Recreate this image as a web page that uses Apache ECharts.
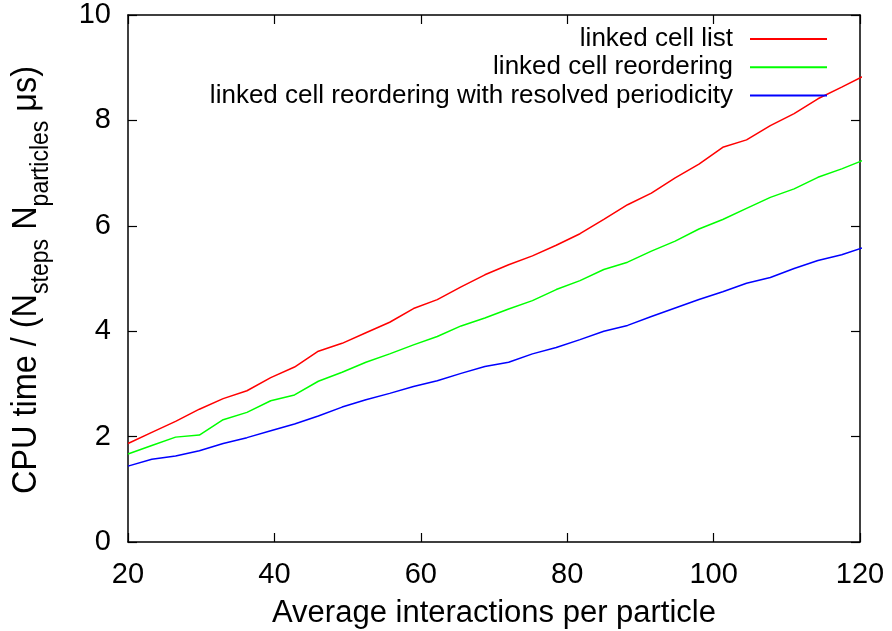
<!DOCTYPE html>
<html>
<head>
<meta charset="utf-8">
<script src="https://cdn.jsdelivr.net/npm/echarts@6/dist/echarts.min.js"></script>
<style>
html,body{margin:0;padding:0;background:#fff;}
#chart{width:892px;height:631px;}
</style>
</head>
<body>
<div id="chart"></div>
<script>
// Average interactions per particle
const interactions = [20, 23.25, 26.5, 29.75, 33, 36.25, 39.5, 42.75, 46, 49.25, 52.5, 55.75, 59, 62.25, 65.5, 68.75, 72, 75.25, 78.5, 81.75, 85, 88.25, 91.5, 94.75, 98, 101.25, 104.5, 107.75, 111, 114.25, 117.5, 120.75];
const linkedCellList = [1.87, 2.08, 2.29, 2.52, 2.72, 2.87, 3.12, 3.32, 3.62, 3.77, 3.97, 4.17, 4.43, 4.60, 4.84, 5.07, 5.26, 5.43, 5.63, 5.85, 6.12, 6.40, 6.62, 6.91, 7.17, 7.49, 7.63, 7.90, 8.13, 8.41, 8.63, 8.86];
const linkedCellReordering = [1.67, 1.83, 1.99, 2.03, 2.32, 2.46, 2.68, 2.79, 3.05, 3.22, 3.41, 3.57, 3.74, 3.90, 4.10, 4.25, 4.42, 4.58, 4.79, 4.96, 5.17, 5.31, 5.52, 5.71, 5.94, 6.12, 6.33, 6.54, 6.70, 6.92, 7.08, 7.26];
const linkedCellReorderingPeriodic = [1.44, 1.57, 1.63, 1.73, 1.87, 1.98, 2.11, 2.24, 2.39, 2.56, 2.70, 2.82, 2.95, 3.06, 3.20, 3.33, 3.41, 3.57, 3.69, 3.84, 4.00, 4.11, 4.28, 4.44, 4.60, 4.75, 4.91, 5.02, 5.19, 5.34, 5.45, 5.60];
const seriesNames = ['linked cell list', 'linked cell reordering', 'linked cell reordering with resolved periodicity'];
const seriesColors = ['#ff0000', '#00ff00', '#0000ff'];
const xTitle = 'Average interactions per particle';

const FONT = '"Liberation Sans", Arial, Helvetica, sans-serif';
const chart = echarts.init(document.getElementById('chart'), null, {renderer: 'canvas'});

function pairs(ys) { return ys.map((y, i) => [interactions[i], y]); }
const allData = [linkedCellList, linkedCellReordering, linkedCellReorderingPeriodic];

const frameAxisX = (pos, labels) => ({
  type: 'value', position: pos, min: 20, max: 120, interval: 20,
  axisLine: {show: true, onZero: false, lineStyle: {color: '#000', width: 1.5}},
  axisTick: {show: true, inside: true, length: 9, lineStyle: {color: '#000', width: 1.2}},
  axisLabel: {show: labels, color: '#000', fontFamily: FONT, fontSize: 29, margin: 18},
  splitLine: {show: false}
});
const frameAxisY = (pos, labels) => ({
  type: 'value', position: pos, min: 0, max: 10, interval: 2,
  axisLine: {show: true, onZero: false, lineStyle: {color: '#000', width: 1.5}},
  axisTick: {show: true, inside: true, length: 9, lineStyle: {color: '#000', width: 1.2}},
  axisLabel: {show: labels, color: '#000', fontFamily: FONT, fontSize: 29, margin: 17},
  splitLine: {show: false}
});

const xMain = frameAxisX('bottom', true);
xMain.name = xTitle;
xMain.nameLocation = 'middle';
xMain.nameGap = 56;
xMain.nameTextStyle = {color: '#000', fontFamily: FONT, fontSize: 31, lineHeight: 31};

chart.setOption({
  animation: false,
  backgroundColor: '#fff',
  grid: {left: 128, right: 32, top: 15, bottom: 89, containLabel: false, outerBoundsMode: 'none'},
  xAxis: [xMain, frameAxisX('top', false)],
  yAxis: [frameAxisY('left', true), frameAxisY('right', false)],
  legend: {
    orient: 'vertical', right: 60, top: 21, align: 'right',
    icon: 'rect', itemWidth: 77, itemHeight: 2, itemGap: 2.3,
    textStyle: {color: '#000', fontFamily: FONT, fontSize: 26, lineHeight: 26, padding: [0, 12, 0, 0]},
    data: seriesNames
  },
  graphic: [{
    type: 'text', x: 31, y: 280, rotation: Math.PI / 2, scaleX: 1.047, scaleY: 1.15,
    style: {
      text: '{n|CPU time / (N}{s|steps}{n| N}{s|particles}{n| \u03bcs)}',
      align: 'center', verticalAlign: 'middle', fill: '#000',
      rich: {
        n: {fontFamily: FONT, fontSize: 31, lineHeight: 31, verticalAlign: 'top', fill: '#000'},
        s: {fontFamily: FONT, fontSize: 22, lineHeight: 39, verticalAlign: 'bottom', fill: '#000'}
      }
    }
  }],
  series: seriesNames.map((name, i) => ({
    name: name, type: 'line', data: pairs(allData[i]),
    xAxisIndex: 0, yAxisIndex: 0,
    showSymbol: false, symbol: 'none', clip: true,
    lineStyle: {color: seriesColors[i], width: 1.5},
    itemStyle: {color: seriesColors[i]}
  }))
});
</script>
</body>
</html>
